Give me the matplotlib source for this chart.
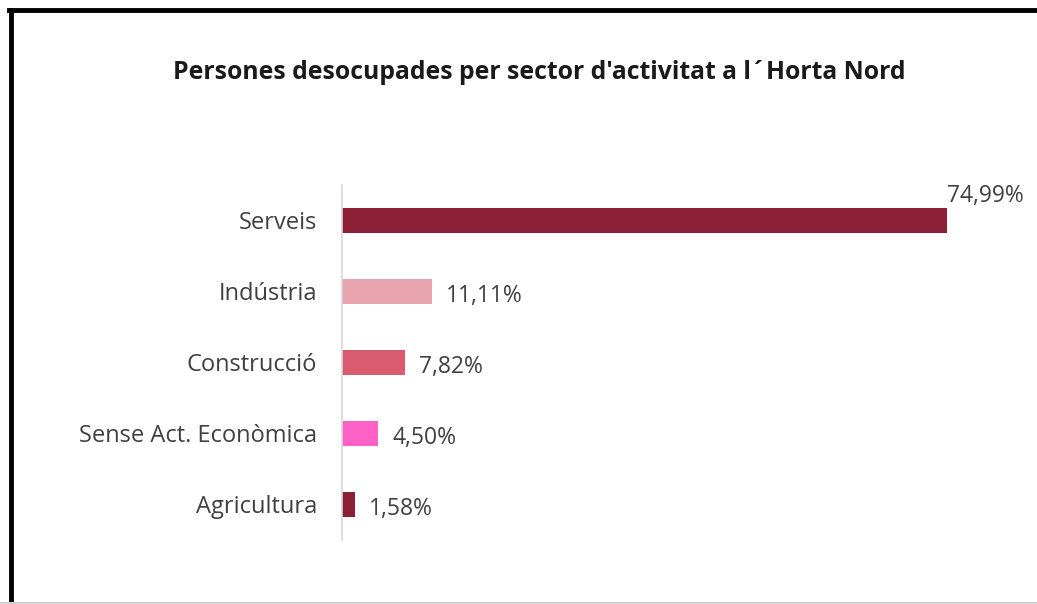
import matplotlib
matplotlib.use('Agg')
import matplotlib.pyplot as plt
from matplotlib.lines import Line2D

sectors = ['Serveis', 'Indústria', 'Construcció', 'Sense Act. Econòmica', 'Agricultura']
shares = [74.99, 11.11, 7.82, 4.50, 1.58]
labels = ['74,99%', '11,11%', '7,82%', '4,50%', '1,58%']
colors = ['#8B1F35', '#E8A4AE', '#D85B6F', '#FF62C6', '#8B1F35']

plt.rcParams['font.family'] = ['Open Sans', 'DejaVu Sans']

fig = plt.figure(figsize=(10.37, 6.04), dpi=100)
ax = fig.add_axes([0.3298, 0.106, 0.6224, 0.588])

ypos = list(range(len(sectors)))
ax.barh(ypos, shares, height=0.35, color=colors)
ax.set_ylim(len(sectors) - 0.5, -0.5)
ax.set_xlim(0, 80)
ax.set_yticks(ypos)
ax.set_yticklabels(sectors, fontsize=17, color='#404040')
ax.tick_params(axis='y', length=0, pad=18)
ax.set_xticks([])
for s in ['top', 'right', 'bottom']:
    ax.spines[s].set_visible(False)
ax.spines['left'].set_color('#d9d9d9')
ax.spines['left'].set_linewidth(1.2)

for i, (v, lab) in enumerate(zip(shares, labels)):
    if i == 0:
        ax.annotate(lab, (v, i), xytext=(0, 9), textcoords='offset points',
                    ha='left', va='bottom', fontsize=16.5, color='#404040')
    else:
        ax.annotate(lab, (v, i), xytext=(10, -3), textcoords='offset points',
                    ha='left', va='center', fontsize=16.5, color='#404040')

fig.text(0.52, 0.88, "Persones desocupades per sector d'activitat a l\u00b4Horta Nord",
         ha='center', va='center', fontsize=17.8, fontweight='bold', color='#1a1a1a')

# frame of the original picture
fig.add_artist(Line2D([0.0105, 0.0105], [0.0, 0.983], transform=fig.transFigure, color='black', lw=3.5))
fig.add_artist(Line2D([0.0085, 1.0], [0.983, 0.983], transform=fig.transFigure, color='black', lw=3.5))
fig.add_artist(Line2D([0.0, 1.0], [0.002, 0.002], transform=fig.transFigure, color='#d0d0d0', lw=1.5))

fig.savefig('out.png', dpi=100)
